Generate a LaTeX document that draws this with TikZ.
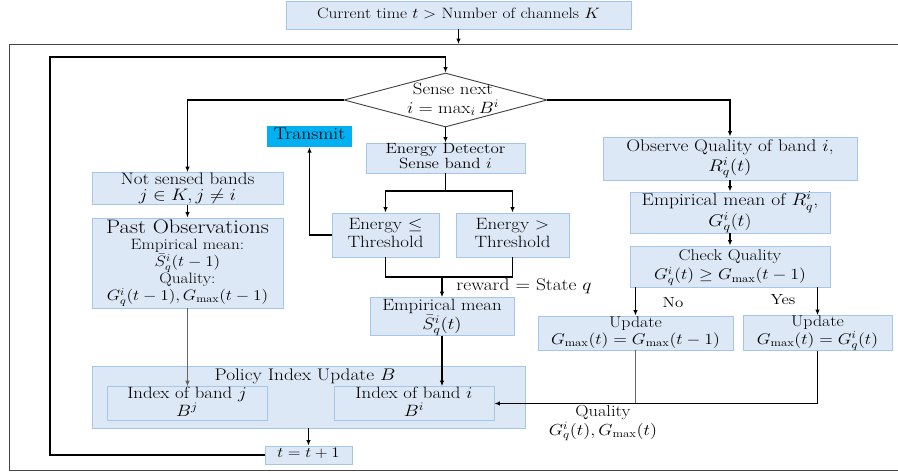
\RequirePackage{fix-cm}
\documentclass[tikz,border=0pt]{standalone}
\usepackage{fontspec}
\usepackage{graphicx}
\usetikzlibrary{arrows.meta,shapes.geometric}
\definecolor{boxfill}{RGB}{221,232,246}
\definecolor{boxline}{RGB}{165,198,232}
\definecolor{txfill}{RGB}{0,176,240}
\definecolor{framec}{RGB}{70,70,70}
% #1 font size, #2 baseline skip, #3 lines
\newcommand{\tx}[3]{\scalebox{1.15}[1]{\fontsize{#1}{#2}\selectfont\begin{tabular}{@{}c@{}}#3\end{tabular}}}
\tikzset{
  box/.style={draw=boxline, fill=boxfill, line width=0.9pt, inner sep=0pt},
  conn/.style={draw=black, line width=1.1pt},
  thinconn/.style={draw=black!60, line width=0.7pt},
  arr/.style={-{Latex[length=5.5pt,width=4.5pt]}},
  lbl/.style={inner sep=0pt},
}
\begin{document}
\begin{tikzpicture}[x=1pt,y=-1pt]
\useasboundingbox (0,0) rectangle (898,472);
% outer frame
\draw[framec, line width=0.9pt] (910,44) -- (9,44) -- (9,470) -- (910,470);

% nodes
\node[box, minimum width=345pt, minimum height=28pt] (top) at (458.5,15) {\tx{15}{15}{Current time $t >$ Number of channels $K$}};
\node[draw=black!75, fill=white, line width=0.9pt, diamond, inner sep=0pt, minimum width=203pt, minimum height=54pt] (dia) at (445.5,100) {};
\node[lbl] (diat) at (453,100) {\tx{16.4}{18}{Sense next\\$i = \max_i B^i$}};
\node[fill=txfill, minimum width=85pt, minimum height=21pt, inner sep=0pt] (tr) at (309.5,136.5) {\tx{17}{17}{Transmit}};
\node[box, minimum width=159pt, minimum height=30pt] (ed) at (445.5,158) {\tx{14.8}{14.5}{Energy Detector\\Sense band $i$}};
\node[box, minimum width=107pt, minimum height=44pt] (le) at (385.5,235) {\tx{16.4}{18}{Energy $\leq$\\Threshold}};
\node[box, minimum width=113pt, minimum height=44pt] (gt) at (512.5,235) {\tx{16.4}{18}{Energy $>$\\Threshold}};
\node[box, minimum width=144pt, minimum height=37pt] (em) at (442,316.5) {\tx{16.4}{18}{Empirical mean\\$\bar{S}^i_q(t)$}};
\node[box, minimum width=191pt, minimum height=29pt] (ns) at (187.5,188.5) {\tx{16.6}{14.5}{Not sensed bands\\$j \in K, j \neq i$}};
\node[box, minimum width=191pt, minimum height=90pt] (po) at (187.5,263) {\tx{15}{16}{{\fontsize{19.5}{19.5}\selectfont Past Observations}\\Empirical mean:\\$\bar{S}^i_q(t-1)$\\Quality:\\$G^i_q(t-1), G_{\max}(t-1)$}};
\node[box, minimum width=433pt, minimum height=62pt] (pol) at (308.5,397) {};
\node[lbl] (poll) at (305,377) {\tx{16.8}{16}{Policy Index Update $B$}};
\node[box, minimum width=160pt, minimum height=29pt] (ij) at (187,403.5) {\tx{16.4}{14.5}{Index of band $j$\\$B^j$}};
\node[box, minimum width=160pt, minimum height=29pt] (ii) at (414,403.5) {\tx{16.4}{14.5}{Index of band $i$\\$B^i$}};
\node[box, minimum width=87pt, minimum height=18pt] (tt) at (308.5,455) {\tx{14.6}{14}{$t = t+1$}};
\node[box, minimum width=254pt, minimum height=43pt] (obs) at (730,158.5) {\tx{16.8}{18}{Observe Quality of band $i$,\\$R^i_q(t)$}};
\node[box, minimum width=200pt, minimum height=37pt] (empr) at (730,212.5) {\tx{17}{17}{Empirical mean of $R^i_q$,\\$G^i_q(t)$}};
\node[box, minimum width=200pt, minimum height=41pt] (chk) at (730,266.5) {\tx{15.5}{19}{Check Quality\\$G^i_q(t) \geq G_{\max}(t-1)$}};
\node[box, minimum width=195pt, minimum height=34pt] (updl) at (635.5,333) {\tx{15.5}{16}{Update\\$G_{\max}(t) = G_{\max}(t-1)$}};
\node[box, minimum width=149pt, minimum height=34pt] (updr) at (817.5,333) {\tx{15.5}{16}{Update\\$G_{\max}(t) = G^i_q(t)$}};

% labels
\node[lbl] (no) at (673,305) {\tx{14.6}{14}{No}};
\node[lbl] (yes) at (783,302) {\tx{14.6}{14}{Yes}};
\node[lbl] (rew) at (524,287) {\tx{16.9}{16}{reward $=$ State $q$}};
\node[lbl] (qual) at (603,423) {\tx{16}{17}{Quality\\$G^i_q(t), G_{\max}(t)$}};

% coordinates
\coordinate (loopc) at (50,57);
\coordinate (sp) at (445.5,191);
\coordinate (jn) at (442,277);

% connectors
\draw[conn,arr] (top.south) -- (top.south |- 0,44);
\draw[conn,arr] (tt.west) -| (loopc) -| (dia.north);
\draw[conn,arr] (dia.west) -| (ns.north);
\draw[conn,arr] (dia.east) -| (obs.north);
\draw[conn,arr] (dia.south) -- (ed.north);
\draw[conn] (ed.south) -- (sp);
\draw[conn,arr] (sp) -| (le.north);
\draw[conn,arr] (sp) -| (gt.north);
\draw[conn,arr] (le.west) -| (tr.south);
\draw[conn] (le.south) |- (jn) -| (gt.south);
\draw[conn,arr] (jn) -- (em.north);
\draw[conn,arr] (em.south) -- (em.south |- ii.north);
\draw[conn,arr] (ns.south) -- (po.north);
\draw[thinconn,arr] (po.south) -- (po.south |- ij.north);
\draw[conn,arr] (pol.south) -- (tt.north);
\draw[conn,arr] (obs.south) -- (empr.north);
\draw[conn,arr] (empr.south) -- (chk.north);
\draw[conn,arr] (chk.south -| updl.north) -- (updl.north);
\draw[conn,arr] (chk.south -| updr.north) -- (updr.north);
\draw[thinconn] (updl.south) -- (updl.south |- ii.east);
\draw[conn,arr] (updr.south) |- (ii.east);
\end{tikzpicture}
\end{document}
